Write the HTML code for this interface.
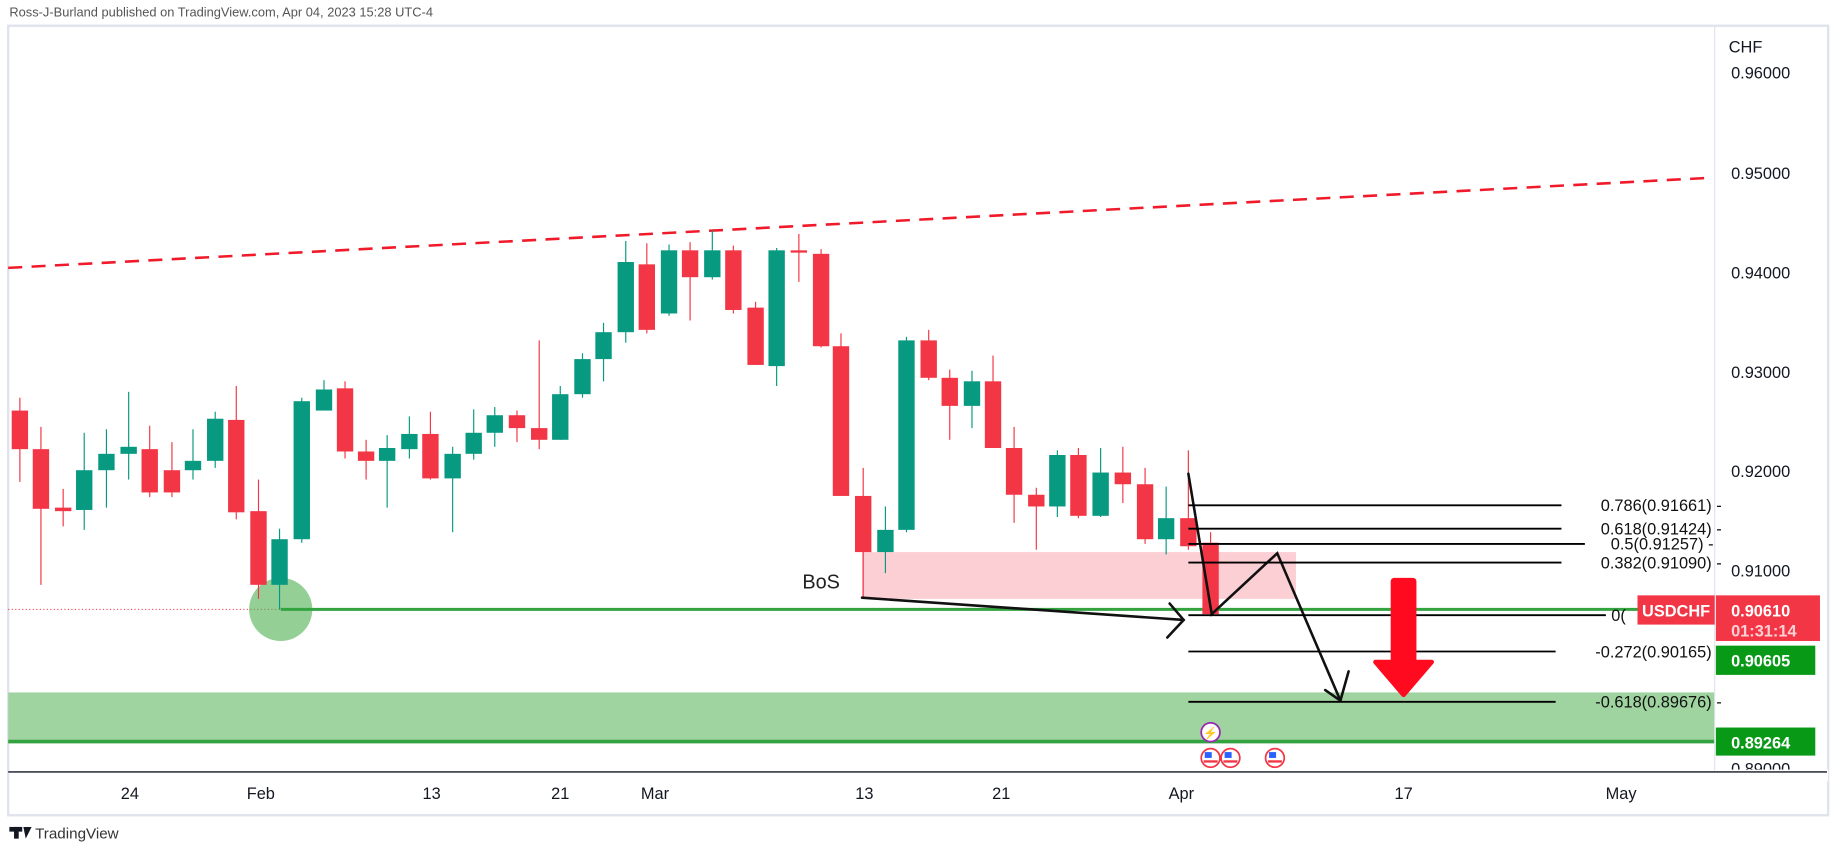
<!DOCTYPE html>
<html><head><meta charset="utf-8"><style>
html,body{margin:0;padding:0;background:#fff;}
svg{display:block;font-family:"Liberation Sans",sans-serif;}
</style></head><body>
<svg width="1834" height="850" viewBox="0 0 1568 726.7" xmlns="http://www.w3.org/2000/svg">
<rect x="0" y="0" width="1568" height="727" fill="#fff"/>
<text x="8" y="14" font-size="11" fill="#555">Ross-J-Burland published on TradingView.com, Apr 04, 2023 15:28 UTC-4</text>
<rect x="7" y="22" width="1556" height="675" fill="none" stroke="#e0e3eb" stroke-width="2"/>
<rect x="7" y="592" width="1459" height="41" fill="#9fd3a0"/>
<line x1="7" y1="634" x2="1466" y2="634" stroke="#33a340" stroke-width="3"/>
<rect x="737" y="472" width="371" height="40" fill="#fccfd4"/>
<line x1="7" y1="229" x2="1462" y2="152" stroke="#f01a2a" stroke-width="2.2" stroke-dasharray="12,8"/>
<line x1="7" y1="521" x2="240" y2="521" stroke="#f23645" stroke-width="0.8" stroke-dasharray="1,2"/>
<circle cx="240" cy="521" r="27" fill="#4caf50" fill-opacity="0.6"/>
<line x1="240" y1="521" x2="1466" y2="521" stroke="#33a340" stroke-width="2.5"/>
<g>
<line x1="17" y1="340" x2="17" y2="412" stroke="#f23645"/><rect x="10" y="351" width="14" height="33" fill="#f23645"/>
<line x1="35" y1="365" x2="35" y2="500" stroke="#f23645"/><rect x="28" y="384" width="14" height="51" fill="#f23645"/>
<line x1="54" y1="418" x2="54" y2="450" stroke="#f23645"/><rect x="47" y="434" width="14" height="3" fill="#f23645"/>
<line x1="72" y1="370" x2="72" y2="453" stroke="#089981"/><rect x="65" y="402" width="14" height="34" fill="#089981"/>
<line x1="91" y1="367" x2="91" y2="434" stroke="#089981"/><rect x="84" y="388" width="14" height="14" fill="#089981"/>
<line x1="110" y1="335" x2="110" y2="410" stroke="#089981"/><rect x="103" y="382" width="14" height="6" fill="#089981"/>
<line x1="128" y1="364" x2="128" y2="425" stroke="#f23645"/><rect x="121" y="384" width="14" height="37" fill="#f23645"/>
<line x1="147" y1="378" x2="147" y2="425" stroke="#f23645"/><rect x="140" y="402" width="14" height="19" fill="#f23645"/>
<line x1="165" y1="367" x2="165" y2="410" stroke="#089981"/><rect x="158" y="394" width="14" height="8" fill="#089981"/>
<line x1="184" y1="352" x2="184" y2="400" stroke="#089981"/><rect x="177" y="358" width="14" height="36" fill="#089981"/>
<line x1="202" y1="330" x2="202" y2="444" stroke="#f23645"/><rect x="195" y="359" width="14" height="79" fill="#f23645"/>
<line x1="221" y1="410" x2="221" y2="512" stroke="#f23645"/><rect x="214" y="437" width="14" height="63" fill="#f23645"/>
<line x1="239" y1="452" x2="239" y2="521" stroke="#089981"/><rect x="232" y="461" width="14" height="39" fill="#089981"/>
<line x1="258" y1="340" x2="258" y2="464" stroke="#089981"/><rect x="251" y="343" width="14" height="118" fill="#089981"/>
<line x1="277" y1="325" x2="277" y2="351" stroke="#089981"/><rect x="270" y="333" width="14" height="18" fill="#089981"/>
<line x1="295" y1="326" x2="295" y2="392" stroke="#f23645"/><rect x="288" y="332" width="14" height="54" fill="#f23645"/>
<line x1="313" y1="376" x2="313" y2="410" stroke="#f23645"/><rect x="306" y="386" width="14" height="8" fill="#f23645"/>
<line x1="331" y1="372" x2="331" y2="434" stroke="#089981"/><rect x="324" y="383" width="14" height="11" fill="#089981"/>
<line x1="350" y1="356" x2="350" y2="392" stroke="#089981"/><rect x="343" y="371" width="14" height="13" fill="#089981"/>
<line x1="368" y1="352" x2="368" y2="410" stroke="#f23645"/><rect x="361" y="371" width="14" height="38" fill="#f23645"/>
<line x1="387" y1="382" x2="387" y2="455" stroke="#089981"/><rect x="380" y="388" width="14" height="21" fill="#089981"/>
<line x1="405" y1="350" x2="405" y2="393" stroke="#089981"/><rect x="398" y="370" width="14" height="18" fill="#089981"/>
<line x1="423" y1="348" x2="423" y2="382" stroke="#089981"/><rect x="416" y="355" width="14" height="15" fill="#089981"/>
<line x1="442" y1="351" x2="442" y2="378" stroke="#f23645"/><rect x="435" y="355" width="14" height="11" fill="#f23645"/>
<line x1="461" y1="291" x2="461" y2="384" stroke="#f23645"/><rect x="454" y="366" width="14" height="10" fill="#f23645"/>
<line x1="479" y1="330" x2="479" y2="376" stroke="#089981"/><rect x="472" y="337" width="14" height="39" fill="#089981"/>
<line x1="498" y1="302" x2="498" y2="340" stroke="#089981"/><rect x="491" y="307" width="14" height="30" fill="#089981"/>
<line x1="516" y1="276" x2="516" y2="326" stroke="#089981"/><rect x="509" y="284" width="14" height="23" fill="#089981"/>
<line x1="535" y1="206" x2="535" y2="293" stroke="#089981"/><rect x="528" y="224" width="14" height="60" fill="#089981"/>
<line x1="553" y1="208" x2="553" y2="285" stroke="#f23645"/><rect x="546" y="226" width="14" height="56" fill="#f23645"/>
<line x1="572" y1="209" x2="572" y2="270" stroke="#089981"/><rect x="565" y="214" width="14" height="54" fill="#089981"/>
<line x1="590" y1="207" x2="590" y2="274" stroke="#f23645"/><rect x="583" y="214" width="14" height="23" fill="#f23645"/>
<line x1="609" y1="197" x2="609" y2="239" stroke="#089981"/><rect x="602" y="214" width="14" height="23" fill="#089981"/>
<line x1="627" y1="210" x2="627" y2="268" stroke="#f23645"/><rect x="620" y="214" width="14" height="51" fill="#f23645"/>
<line x1="646" y1="258" x2="646" y2="312" stroke="#f23645"/><rect x="639" y="263" width="14" height="49" fill="#f23645"/>
<line x1="664" y1="212" x2="664" y2="330" stroke="#089981"/><rect x="657" y="214" width="14" height="99" fill="#089981"/>
<line x1="683" y1="200" x2="683" y2="241" stroke="#f23645"/><rect x="676" y="214" width="14" height="2" fill="#f23645"/>
<line x1="702" y1="213" x2="702" y2="297" stroke="#f23645"/><rect x="695" y="217" width="14" height="79" fill="#f23645"/>
<line x1="719" y1="285" x2="719" y2="424" stroke="#f23645"/><rect x="712" y="296" width="14" height="128" fill="#f23645"/>
<line x1="738" y1="400" x2="738" y2="510" stroke="#f23645"/><rect x="731" y="424" width="14" height="48" fill="#f23645"/>
<line x1="757" y1="433" x2="757" y2="490" stroke="#089981"/><rect x="750" y="453" width="14" height="19" fill="#089981"/>
<line x1="775" y1="288" x2="775" y2="455" stroke="#089981"/><rect x="768" y="291" width="14" height="162" fill="#089981"/>
<line x1="794" y1="282" x2="794" y2="325" stroke="#f23645"/><rect x="787" y="291" width="14" height="32" fill="#f23645"/>
<line x1="812" y1="316" x2="812" y2="376" stroke="#f23645"/><rect x="805" y="323" width="14" height="24" fill="#f23645"/>
<line x1="831" y1="317" x2="831" y2="366" stroke="#089981"/><rect x="824" y="326" width="14" height="21" fill="#089981"/>
<line x1="849" y1="304" x2="849" y2="383" stroke="#f23645"/><rect x="842" y="326" width="14" height="57" fill="#f23645"/>
<line x1="867" y1="365" x2="867" y2="447" stroke="#f23645"/><rect x="860" y="383" width="14" height="40" fill="#f23645"/>
<line x1="886" y1="417" x2="886" y2="470" stroke="#f23645"/><rect x="879" y="423" width="14" height="10" fill="#f23645"/>
<line x1="904" y1="385" x2="904" y2="442" stroke="#089981"/><rect x="897" y="389" width="14" height="44" fill="#089981"/>
<line x1="922" y1="383" x2="922" y2="443" stroke="#f23645"/><rect x="915" y="389" width="14" height="52" fill="#f23645"/>
<line x1="941" y1="383" x2="941" y2="442" stroke="#089981"/><rect x="934" y="404" width="14" height="37" fill="#089981"/>
<line x1="960" y1="382" x2="960" y2="430" stroke="#f23645"/><rect x="953" y="404" width="14" height="10" fill="#f23645"/>
<line x1="979" y1="400" x2="979" y2="465" stroke="#f23645"/><rect x="972" y="414" width="14" height="47" fill="#f23645"/>
<line x1="997" y1="416" x2="997" y2="474" stroke="#089981"/><rect x="990" y="443" width="14" height="18" fill="#089981"/>
<line x1="1016" y1="385" x2="1016" y2="470" stroke="#f23645"/><rect x="1009" y="443" width="14" height="24" fill="#f23645"/>
<line x1="1035" y1="455" x2="1035" y2="527" stroke="#f23645"/><rect x="1028" y="464" width="14" height="61" fill="#f23645"/>
</g>
<text x="686" y="503" font-size="17" fill="#222">BoS</text>
<g stroke="#111" stroke-width="2.2" fill="none" stroke-linecap="round">
<line x1="737" y1="511" x2="1012" y2="530"/>
<polyline points="1000,516 1012,530 998,545"/>
<polyline points="1016,405 1036,525 1092,473 1146,599"/>
<polyline points="1133,590 1146,599 1153,574"/>
</g>
<g stroke="#000" stroke-width="1.6">
<line x1="1016" y1="432" x2="1335" y2="432"/>
<line x1="1016" y1="452" x2="1335" y2="452"/>
<line x1="1016" y1="465" x2="1355" y2="465"/>
<line x1="1016" y1="481" x2="1335" y2="481"/>
<line x1="1016" y1="526" x2="1373" y2="526"/>
<line x1="1016" y1="557" x2="1330" y2="557"/>
<line x1="1016" y1="600" x2="1330" y2="600"/>
</g>
<g font-size="14" fill="#111" text-anchor="end">
<text x="1472" y="437">0.786(0.91661) -</text>
<text x="1472" y="457">0.618(0.91424) -</text>
<text x="1465" y="470">0.5(0.91257) -</text>
<text x="1472" y="486">0.382(0.91090) -</text>
<text x="1472" y="562">-0.272(0.90165) -</text>
<text x="1472" y="605">-0.618(0.89676) -</text>
<text x="1390" y="531">0(</text>
</g>
<rect x="1189" y="494" width="22" height="74" rx="3" fill="#ff0a1e"/>
<polygon points="1176,566 1224,566 1200,594" fill="#ff0a1e" stroke="#ff0a1e" stroke-width="4" stroke-linejoin="round"/>
<circle cx="1035" cy="626" r="8" fill="#fff" stroke="#9c27b0" stroke-width="1.5"/>
<text x="1035" y="630" font-size="10" fill="#9c27b0" text-anchor="middle">⚡</text>
<g stroke="#f23645" stroke-width="1.5" fill="#fff">
<circle cx="1035" cy="648" r="8"/><circle cx="1052" cy="648" r="8"/><circle cx="1090" cy="648" r="8"/>
</g>
<g fill="#f23645"><rect x="1029" y="650" width="12" height="2"/><rect x="1046" y="650" width="12" height="2"/><rect x="1084" y="650" width="12" height="2"/></g>
<g fill="#2962ff"><rect x="1030" y="643" width="6" height="5"/><rect x="1047" y="643" width="6" height="5"/><rect x="1085" y="643" width="6" height="5"/></g>
<line x1="1466" y1="22" x2="1466" y2="660" stroke="#e0e3eb" stroke-width="1"/>
<g font-size="14" fill="#131722">
<text x="1478" y="45">CHF</text>
<text x="1480" y="67">0.96000</text>
<text x="1480" y="153">0.95000</text>
<text x="1480" y="238">0.94000</text>
<text x="1480" y="323">0.93000</text>
<text x="1480" y="408">0.92000</text>
<text x="1480" y="493">0.91000</text>
<text x="1480" y="662">0.89000</text>
</g>
<rect x="1466" y="658" width="97" height="10" fill="#fff"/>
<line x1="7" y1="660" x2="1562" y2="660" stroke="#131722" stroke-width="1.2"/>
<g font-size="14" fill="#131722" text-anchor="middle">
<text x="111" y="683">24</text><text x="223" y="683">Feb</text><text x="369" y="683">13</text>
<text x="479" y="683">21</text><text x="560" y="683">Mar</text><text x="739" y="683">13</text>
<text x="856" y="683">21</text><text x="1010" y="683">Apr</text><text x="1200" y="683">17</text>
<text x="1386" y="683">May</text>
</g>
<rect x="1400" y="509" width="66" height="25" fill="#f23645"/>
<text x="1433" y="527" font-size="14" font-weight="bold" fill="#fff" text-anchor="middle">USDCHF</text>
<rect x="1467" y="509" width="89" height="39" fill="#f23645"/>
<text x="1480" y="527" font-size="14" font-weight="bold" fill="#fff">0.90610</text>
<text x="1480" y="544" font-size="14" font-weight="bold" fill="#fcd0d4">01:31:14</text>
<rect x="1467" y="552" width="85" height="25" fill="#089917"/>
<text x="1480" y="570" font-size="14" font-weight="bold" fill="#fff">0.90605</text>
<rect x="1467" y="622" width="85" height="24" fill="#089917"/>
<text x="1480" y="640" font-size="14" font-weight="bold" fill="#fff">0.89264</text>
<rect x="8" y="707" width="11" height="4" fill="#131722"/><rect x="12" y="707" width="4" height="10" fill="#131722"/>
<polygon points="20,707 27,707 22,717" fill="#131722"/>
<text x="30" y="717" font-size="13" fill="#333">TradingView</text>
</svg>
</body></html>
